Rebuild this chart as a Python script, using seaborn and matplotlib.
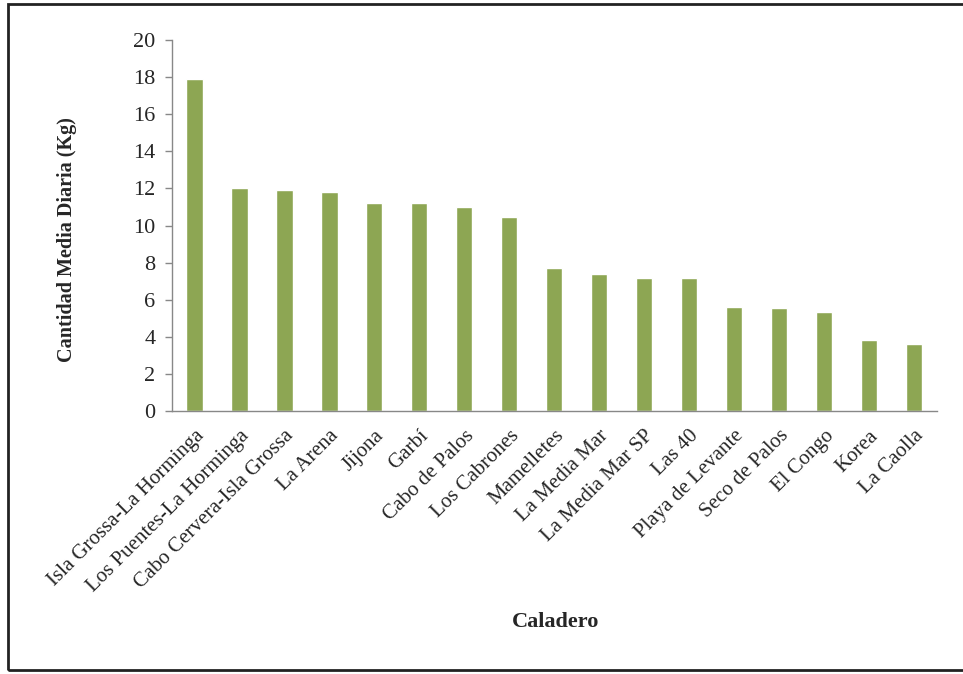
import numpy as np
import pandas as pd
import matplotlib
matplotlib.use("Agg")
import matplotlib.pyplot as plt
import seaborn as sns
from matplotlib.patches import Rectangle

categories = ["Isla Grossa-La Horminga", "Los Puentes-La Horminga", "Cabo Cervera-Isla Grossa",
              "La Arena", "Jijona", "Garbí", "Cabo de Palos", "Los Cabrones", "Mamelletes",
              "La Media Mar", "La Media Mar SP", "Las 40", "Playa de Levante", "Seco de Palos",
              "El Congo", "Korea", "La Caolla"]
values = [17.9, 12.0, 11.9, 11.8, 11.2, 11.2, 11.0, 10.45, 7.7, 7.4, 7.2, 7.15, 5.6, 5.55, 5.35, 3.85, 3.6]
yticks = [0, 2, 4, 6, 8, 10, 12, 14, 16, 18, 20]

df = pd.DataFrame({"Caladero": categories, "Cantidad": values})

sns.set_style("white")
plt.rcParams['font.family'] = ['Liberation Serif', 'DejaVu Serif']

fig = plt.figure(figsize=(9.63, 6.74), dpi=100)
ax = fig.add_axes([0.1786, 0.390, 0.794, 0.5507])

sns.barplot(data=df, x="Caladero", y="Cantidad", order=categories, color="#8DA653",
            width=0.36, saturation=1, ax=ax)

ax.set_xlim(-0.5, len(categories) - 0.5)
ax.set_ylim(0, 20)
ax.set_yticks(yticks)
ax.set_yticklabels([str(t) for t in yticks], fontsize=16)
ax.set_xticks(range(len(categories)))
ax.set_xticklabels(categories, rotation=45, ha='right', rotation_mode='anchor', fontsize=15)
ax.set_xticks(np.arange(-0.5, len(categories), 1), minor=True)
ax.tick_params(axis='x', which='major', length=0, pad=11)
ax.tick_params(axis='x', which='minor', length=5, width=1, color='#888888', direction='out')
ax.tick_params(axis='y', which='major', length=5, width=1, color='#888888', direction='out', left=True, pad=7)

for s in ['top', 'right']:
    ax.spines[s].set_visible(False)
for s in ['left', 'bottom']:
    ax.spines[s].set_color('#888888')
    ax.spines[s].set_linewidth(1)

ax.set_ylabel("Cantidad Media Diaria (Kg)", fontsize=14.5, fontweight='bold')
ax.yaxis.set_label_coords((77 - 172) / (0.794 * 963), 0.5 - 14 / (0.5507 * 674))
ax.set_xlabel("")
fig.text(556 / 963, 1 - 622 / 674, "Caladero", fontsize=16, fontweight='bold', ha='center', va='center')

fig.patches.append(Rectangle((8 / 963, 1 - 670 / 674), 1.2, (670 - 4) / 674, transform=fig.transFigure,
                             fill=False, edgecolor='#222222', linewidth=2))

fig.savefig("out.png", dpi=100, facecolor='white')
